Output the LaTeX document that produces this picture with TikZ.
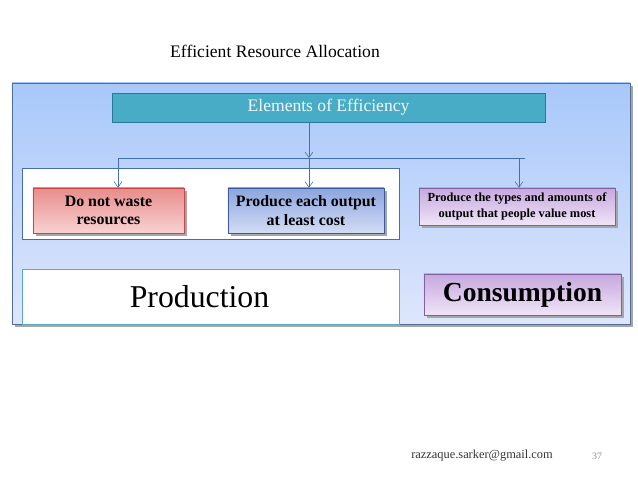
\documentclass[tikz,border=0pt]{standalone}
\usepackage{fontspec}
\setmainfont{Liberation Serif}
\usetikzlibrary{arrows.meta, shadows, positioning}

\definecolor{panelTop}{RGB}{168,200,250}
\definecolor{panelBot}{RGB}{222,230,252}
\definecolor{panelLine}{RGB}{80,110,150}
\definecolor{tealFill}{RGB}{72,172,198}
\definecolor{tealLine}{RGB}{40,120,150}
\definecolor{linkBlue}{RGB}{70,110,170}
\definecolor{redTop}{RGB}{232,140,140}
\definecolor{redBot}{RGB}{248,210,210}
\definecolor{redLine}{RGB}{200,70,70}
\definecolor{blueTop}{RGB}{140,165,222}
\definecolor{blueBot}{RGB}{210,220,245}
\definecolor{blueLine}{RGB}{60,90,160}
\definecolor{purpTop}{RGB}{198,168,222}
\definecolor{purpBot}{RGB}{240,228,248}
\definecolor{purpLine}{RGB}{130,95,165}
\definecolor{prodLine}{RGB}{90,170,190}

\begin{document}
\begin{tikzpicture}[
    x=0.025cm, y=-0.025cm,
    shade/.style={drop shadow={shadow xshift=2pt, shadow yshift=-2pt, fill=black!35, opacity=1}},
    goal/.style={rectangle, draw, shade, text centered, align=center, inner sep=1pt,
        font=\fontsize{11.3}{13}\selectfont\bfseries, minimum height=1.125cm},
    link/.style={draw=linkBlue, thin},
    arrow/.style={link, -{Straight Barb[length=1.4mm, width=2mm]}}
]
\useasboundingbox (0,0) rectangle (638,479);

% Title
\node (title) at (275,51) {\fontsize{12.5}{14}\selectfont Efficient Resource Allocation};

% Background panel
\node[rectangle, draw=panelLine, top color=panelTop, bottom color=panelBot, shade,
    minimum width=15.45cm, minimum height=6.025cm] (panel) at (321,203.5) {};

% Header
\node[rectangle, draw=tealLine, fill=tealFill, text=white!92!tealFill,
    minimum width=10.825cm, minimum height=0.725cm,
    font=\fontsize{12.5}{14}\selectfont] (eff) at (328.5,107.5) {Elements of Efficiency};

% Production group
\node[rectangle, draw=linkBlue, fill=white, minimum width=9.425cm, minimum height=1.775cm] (group) at (210.5,203.5) {};
\node[rectangle, draw=prodLine, fill=white, minimum width=9.425cm, minimum height=1.375cm,
    font=\fontsize{22.6}{24}\selectfont] (prod) at (210.5,296.5) {\kern-0.55cm Production};

% Elements
\node[goal, draw=redLine, top color=redTop, bottom color=redBot, minimum width=3.775cm] (waste) at (108.5,210.5) {Do not waste\\resources};
\node[goal, draw=blueLine, top color=blueTop, bottom color=blueBot, minimum width=3.9cm] (cost) at (306,210.5) {Produce each output\\at least cost};
\node[goal, draw=purpLine, top color=purpTop, bottom color=purpBot, minimum width=4.9cm, minimum height=0.925cm,
    font=\fontsize{8.8}{11}\selectfont\bfseries] (value) at (517,206.5) {Produce the types and amounts of\\output that people value most};

% Consumption
\node[goal, draw=purpLine, top color=purpTop, bottom color=purpBot, minimum width=4.925cm, minimum height=1.025cm,
    font=\fontsize{19.6}{22}\selectfont\bfseries] (cons) at (522.5,294.5) {Consumption};

% Connections
\coordinate (split) at (309,158);
\coordinate (left) at (118,158);
\coordinate (right) at (519,158);
\coordinate (tail) at (525,158);
\draw[arrow] (eff.south -| split) -- (split);
\draw[link] (left) -- (tail);
\draw[arrow] (left) -- (left |- waste.north);
\draw[arrow] (split) -- (split |- cost.north);
\draw[arrow] (right) -- (right |- value.north);

% Footer
\node[text=black!80, font=\fontsize{8.8}{10}\selectfont] (mail) at (482,456) {razzaque.sarker@gmail.com};
\node[text=black!45, font=\fontsize{7}{8}\selectfont] (page) at (597,456) {37};

\end{tikzpicture}
\end{document}
